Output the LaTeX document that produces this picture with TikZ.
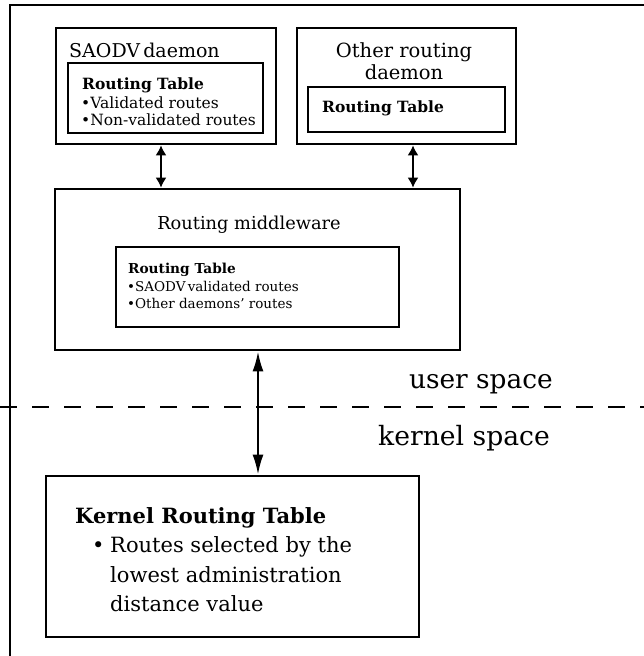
\documentclass[tikz,border=0pt]{standalone}
\usepackage{fontspec}
\setmainfont{DejaVu Serif}
\usetikzlibrary{arrows.meta}
\newcommand\fsz[1]{\fontsize{#1}{#1}\selectfont}
\tikzset{
  obox/.style={draw, line width=2.8pt, minimum width=#1, inner sep=0pt},
  ibox/.style={draw, line width=2.4pt, inner sep=0pt},
  txt/.style={anchor=base west, inner sep=0pt},
  ctxt/.style={anchor=base, inner sep=0pt},
  rtxt/.style={anchor=base east, inner sep=0pt},
  sarr/.style={line width=1.6pt, {Latex[length=10pt,width=11pt]}-{Latex[length=10pt,width=11pt]}},
  barr/.style={line width=2.2pt, {Latex[length=20pt,width=11pt]}-{Latex[length=20pt,width=11pt]}},
}
\begin{document}
\begin{tikzpicture}[x=1pt,y=-1pt]
\useasboundingbox (0,0) rectangle (644,656);
% outer frame
\coordinate (fbl) at (10,657);
\coordinate (ftl) at (10,5);
\coordinate (ftr) at (645,5);
\draw[line width=2.6pt] (fbl) -- (ftl) -- (ftr);
% SAODV daemon
\node[obox=220pt, minimum height=116pt] (saodv) at (166,86) {};
\node[ibox, minimum width=195pt, minimum height=70pt] (saodvrt) at (165.5,98) {};
\node[txt] (saodvt) at (69,57) {\fsz{19}SAODV\,daemon};
\node[txt] (saodvrtt) at (82,89) {\fsz{15.5}\bfseries Routing Table};
\node[txt] (saodvb1) at (81,108) {\fsz{15.5}\textbullet Validated routes};
\node[txt] (saodvb2) at (81,125) {\fsz{15.5}\textbullet Non-validated routes};
% other daemon
\node[obox=219pt, minimum height=116pt] (other) at (406.5,86) {};
\node[ibox, minimum width=197pt, minimum height=45pt] (otherrt) at (406.5,109.5) {};
\node[ctxt] (othert1) at (404,57) {\fsz{19.5}Other routing};
\node[ctxt] (othert2) at (404,79) {\fsz{19.5}daemon};
\node[txt] (otherrtt) at (322,112) {\fsz{15.5}\bfseries Routing Table};
% middleware
\node[obox=405pt, minimum height=161pt] (mw) at (257.5,269.5) {};
\node[ibox, minimum width=283pt, minimum height=80pt] (mwrt) at (257.5,287) {};
\node[ctxt] (mwt) at (249,229) {\fsz{17.8}Routing middleware};
\node[txt] (mwrtt) at (128,273) {\fsz{13.7}\bfseries Routing Table};
\node[txt] (mwb1) at (127,291) {\fsz{13.5}\textbullet SAODV\,validated routes};
\node[txt] (mwb2) at (127,308) {\fsz{13.5}\textbullet Other daemons' routes};
% kernel
\node[obox=373pt, minimum height=161pt] (kern) at (232.5,556.5) {};
\node[txt] (kernt) at (75,523) {\fsz{21}\bfseries Kernel Routing Table};
\node[txt] (kernbul) at (92,552) {\fsz{21}\textbullet};
\node[txt] (kernb1) at (110,552) {\fsz{21}Routes selected by the};
\node[txt] (kernb2) at (110,582) {\fsz{21}lowest administration};
\node[txt] (kernb3) at (110,611) {\fsz{21}distance value};
% space divider
\coordinate (dl) at (0,407);
\coordinate (dr) at (644,407);
\draw[line width=2.2pt, dash pattern=on 17pt off 15pt] (dl) -- (dr);
\node[rtxt] (user) at (553,388) {\fsz{26.4}user space};
\node[rtxt] (kspace) at (550,445) {\fsz{26.6}kernel space};
% connectors
\draw[sarr] (161,0 |- saodv.south) -- (161,0 |- mw.north);
\draw[sarr] (413,0 |- other.south) -- (413,0 |- mw.north);
\draw[barr] (258,0 |- mw.south) -- (258,0 |- kern.north);
\end{tikzpicture}
\end{document}
